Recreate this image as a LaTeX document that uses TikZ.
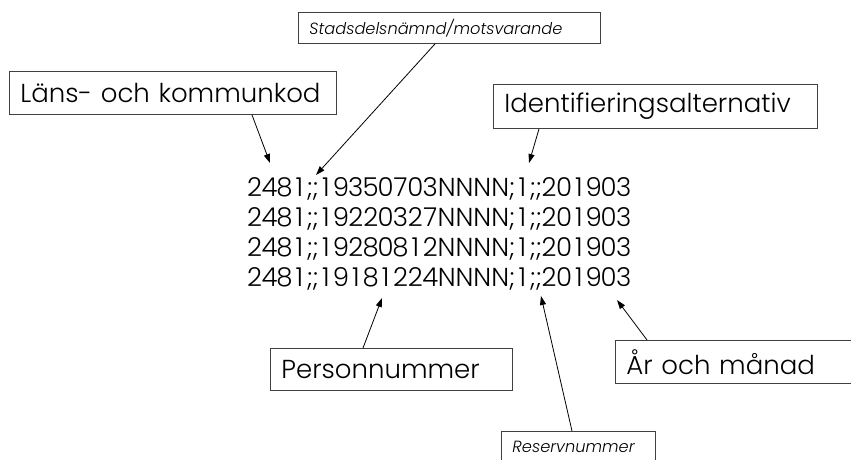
\documentclass[tikz,border=0pt]{standalone}
\usepackage{fontspec}
\setmainfont{Poppins Light}[ItalicFont={Poppins Light Italic}]
\usetikzlibrary{arrows.meta,calc}
\newlength\tnw
\def\tnA#1{\ifx\relax#1\else\makebox[\tnw][c]{#1}\expandafter\tnA\fi}
\newcommand\tn[1]{\settowidth\tnw{0}\tnw=0.93\tnw\tnA#1\relax}
\newcommand\dline[4]{\tn{#1};;\tn{#2}NNNN;\tn{#3};;\tn{#4}}
\begin{document}
\begin{tikzpicture}[x=1pt,y=-1pt,
  box/.style={draw=black!75, line width=0.9pt, rectangle, anchor=north west,
    inner xsep=11pt, inner ysep=0pt, align=left},
  big/.style={box, font=\fontsize{26}{30}\selectfont},
  small/.style={box, font=\fontsize{16.2}{18}\selectfont\itshape},
  datal/.style={anchor=base west, inner sep=0pt, font=\fontsize{26}{30}\selectfont},
  arr/.style={-{Triangle[length=9pt,width=6pt]}, line width=0.8pt, black}]
\useasboundingbox (0,0) rectangle (851,460);
% boxes
\node[small, text width=280pt, minimum height=31pt] (stads) at (298,12) {\mbox{Stadsdelsnämnd/motsvarande}};
\node[big, text width=305pt, minimum height=43pt] (lans) at (9,71) {\mbox{Läns- och kommunkod}};
\node[big, text width=302pt, minimum height=44pt] (ident) at (493,84) {\mbox{Identifieringsalternativ}};
\node[big, text width=220pt, minimum height=42pt] (pers) at (270,348) {\mbox{Personnummer}};
\node[big, text width=240pt, minimum height=43pt] (ar) at (615,340) {\mbox{År och månad}};
\node[small, text width=132pt, minimum height=31pt] (res) at (501,431) {\mbox{Reservnummer}};
% data lines
\node[datal] (l1) at (247,196) {\dline{2481}{19350703}{1}{201903}};
\node[datal] (l2) at (247,226) {\dline{2481}{19220327}{1}{201903}};
\node[datal] (l3) at (247,256) {\dline{2481}{19280812}{1}{201903}};
\node[datal] (l4) at (247,286) {\dline{2481}{19181224}{1}{201903}};
% arrow targets
\coordinate (tLans) at (270,163);
\coordinate (tStads) at (316,175);
\coordinate (tIdent) at (529,163);
\coordinate (tPers) at (382,298);
\coordinate (tRes) at (541,296);
\coordinate (tAr) at (617,300);
% arrows
\draw[arr] ($(lans.south west)+(243,0)$) -- (tLans);
\draw[arr] ($(stads.south west)+(137,0)$) -- (tStads);
\draw[arr] ($(ident.south west)+(46,0)$) -- (tIdent);
\draw[arr] ($(pers.north west)+(93,0)$) -- (tPers);
\draw[arr] ($(res.north west)+(71,0)$) -- (tRes);
\draw[arr] ($(ar.north west)+(32,0)$) -- (tAr);
\end{tikzpicture}
\end{document}
